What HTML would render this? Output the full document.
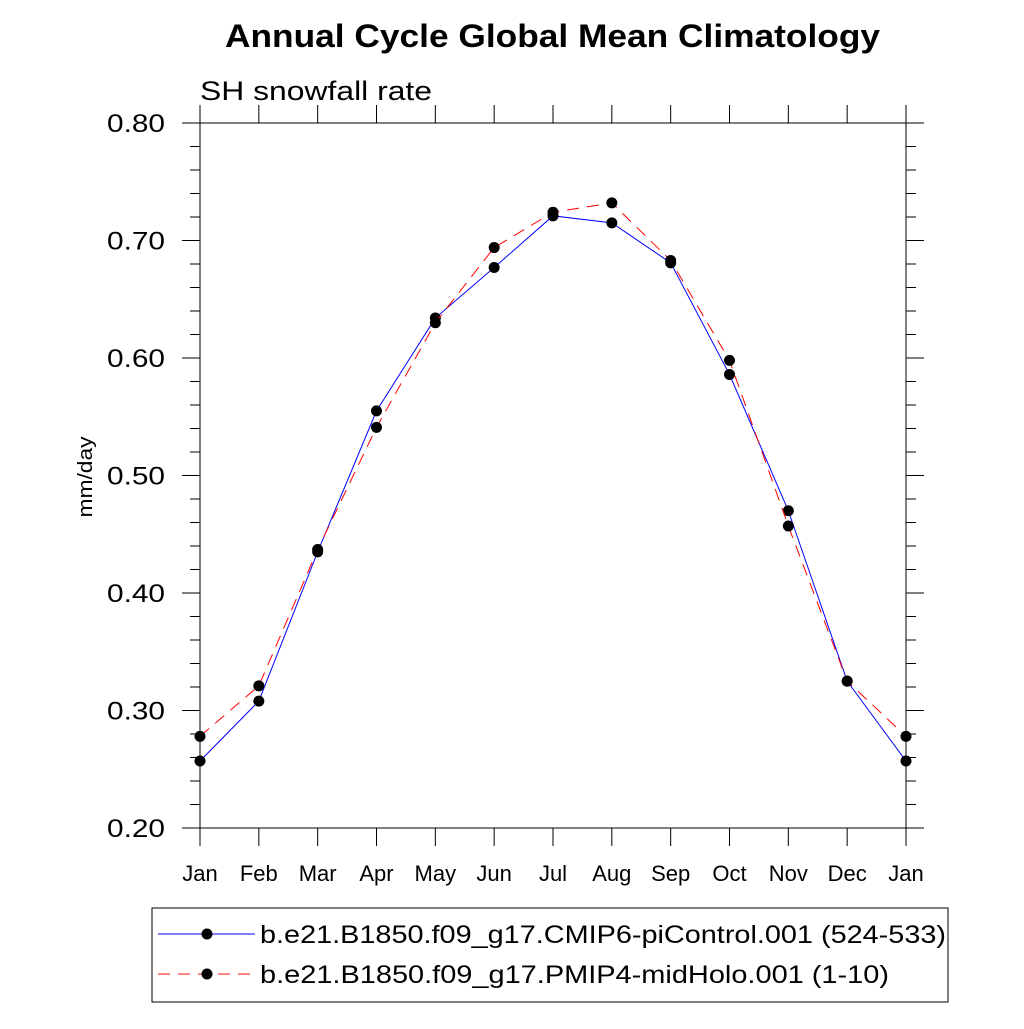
<!DOCTYPE html>
<html><head><meta charset="utf-8"><style>
body{margin:0;background:#fff;}
svg text{font-family:"Liberation Sans",sans-serif;}
</style></head><body>
<svg id="chart" width="1024" height="1024" xmlns="http://www.w3.org/2000/svg">
<text x="225" y="47" font-size="32" font-weight="bold" textLength="655" lengthAdjust="spacingAndGlyphs">Annual Cycle Global Mean Climatology</text>
<text x="200" y="100" font-size="27" textLength="232" lengthAdjust="spacingAndGlyphs">SH snowfall rate</text>
<text transform="translate(92,477) rotate(-90)" text-anchor="middle" font-size="20" textLength="81" lengthAdjust="spacingAndGlyphs">mm/day</text>
<g id="axes"></g>
<g id="series"></g>
<rect x="152" y="908" width="796" height="94" fill="none" stroke="#000" stroke-width="1"/>
<g>
<line x1="158" y1="934" x2="255" y2="934" stroke="#0000ff" stroke-width="1"/>
<circle cx="207" cy="934" r="5.5" fill="#000"/>
<text x="260" y="943" font-size="25" textLength="686" lengthAdjust="spacingAndGlyphs">b.e21.B1850.f09_g17.CMIP6-piControl.001 (524-533)</text>
</g>
<g>
<line x1="158" y1="974" x2="255" y2="974" stroke="#ff0000" stroke-width="1" stroke-dasharray="12,8"/>
<circle cx="207" cy="974" r="5.5" fill="#000"/>
<text x="260" y="983" font-size="25" textLength="629" lengthAdjust="spacingAndGlyphs">b.e21.B1850.f09_g17.PMIP4-midHolo.001 (1-10)</text>
</g>
</svg>
<script>
const months=["Jan","Feb","Mar","Apr","May","Jun","Jul","Aug","Sep","Oct","Nov","Dec","Jan"];
const piControl=[0.257,0.308,0.435,0.555,0.634,0.677,0.721,0.715,0.681,0.586,0.470,0.325,0.257];
const midHolo=[0.278,0.321,0.437,0.541,0.630,0.694,0.724,0.732,0.683,0.598,0.457,0.325,0.278];
const yTicks=[0.20,0.30,0.40,0.50,0.60,0.70,0.80];
const NS="http://www.w3.org/2000/svg";
const L=200,R=906,T=123,B=828,yMin=0.2,yMax=0.8;
const xs=i=>L+(R-L)*i/(months.length-1);
const ys=v=>B-(v-yMin)/(yMax-yMin)*(B-T);
function mk(tag,attrs,parent){const e=document.createElementNS(NS,tag);for(const k in attrs)e.setAttribute(k,attrs[k]);parent.appendChild(e);return e;}
const ax=document.getElementById('axes');
const frame=mk('rect',{x:L,y:T,width:R-L,height:B-T,fill:'none',stroke:'#000','stroke-width':1},ax);


for(let v=0.2;v<=0.8001;v+=0.02){const y=ys(v);const major=Math.abs(Math.round(v*10)-v*10)<1e-6;const len=major?18:10;
mk('line',{x1:L-len,y1:y,x2:L,y2:y,stroke:'#000','stroke-width':1},ax);
mk('line',{x1:R,y1:y,x2:R+len,y2:y,stroke:'#000','stroke-width':1},ax);}
yTicks.forEach(v=>{const t=mk('text',{x:165,y:ys(v)+9,'text-anchor':'end','font-size':25,textLength:58,lengthAdjust:'spacingAndGlyphs'},ax);t.textContent=v.toFixed(2);

});
months.forEach((m,i)=>{const x=xs(i);
mk('line',{x1:x,y1:B,x2:x,y2:B+18,stroke:'#000','stroke-width':1},ax);
mk('line',{x1:x,y1:T-18,x2:x,y2:T,stroke:'#000','stroke-width':1},ax);
const t=mk('text',{x:x,y:881,'text-anchor':'middle','font-size':22},ax);t.textContent=m;

});
const sg=document.getElementById('series');
function draw(vals,color,dash,name){
const pts=vals.map((v,i)=>xs(i)+','+ys(v)).join(' ');
const pl=mk('polyline',{points:pts,fill:'none',stroke:color,'stroke-width':1},sg);
if(dash)pl.setAttribute('stroke-dasharray',dash);


vals.forEach((v,i)=>{const c=mk('circle',{cx:xs(i),cy:ys(v),r:5.5,fill:'#000'},sg);

});}
draw(piControl,'#0000ff',null,'picontrol');
draw(midHolo,'#ff0000','12,8','midholo');
</script>
</body></html>
